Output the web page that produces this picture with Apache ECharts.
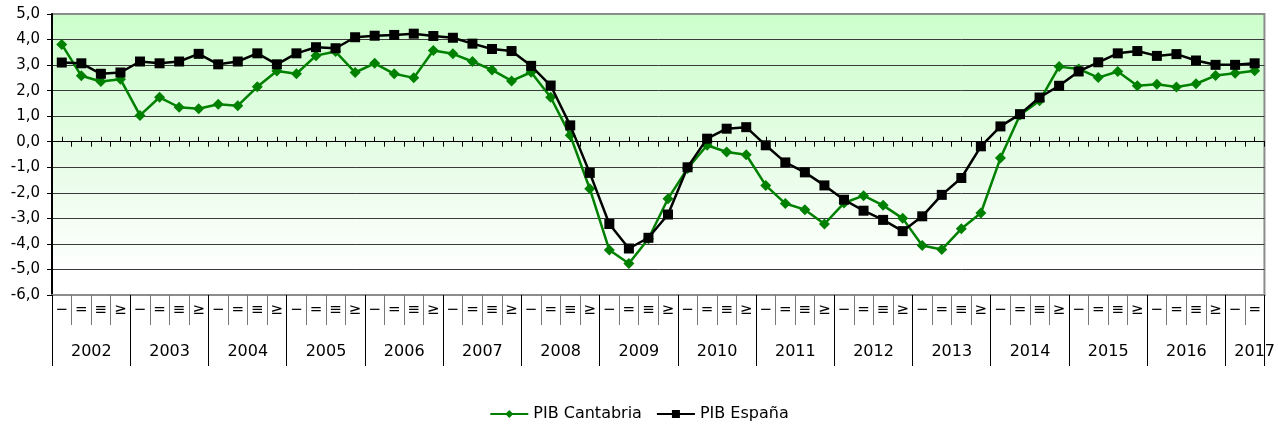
<!DOCTYPE html>
<html>
<head>
<meta charset="utf-8">
<script src="https://cdn.jsdelivr.net/npm/echarts@6/dist/echarts.min.js"></script>
<style>
  html, body { margin: 0; padding: 0; background: #fff; }
  .EC { width: 1278px; height: 428px; }
</style>
</head>
<body>
<div class="EC"></div>
<script>
    // trimestres (el original muestra los números romanos con fuente de símbolos)
    const quarterMarks = ['−', '=', '≡', '≥']
    const years = ['2002', '2003', '2004', '2005', '2006', '2007', '2008', '2009',
        '2010', '2011', '2012', '2013', '2014', '2015', '2016', '2017']
    const seriesNames = ['PIB Cantabria', 'PIB España']

    const pibCantabria = [3.81, 2.58, 2.36, 2.45, 1.03, 1.74, 1.35, 1.29, 1.47, 1.41, 2.15, 2.77,
        2.66, 3.37, 3.53, 2.71, 3.07, 2.66, 2.50, 3.57, 3.44, 3.14, 2.81, 2.38, 2.72, 1.74,
        0.25, -1.84, -4.24, -4.77, -3.80, -2.23, -1.05, -0.14, -0.40, -0.51, -1.71, -2.42,
        -2.66, -3.22, -2.40, -2.11, -2.49, -3.00, -4.06, -4.22, -3.41, -2.79, -0.64, 1.05,
        1.60, 2.94, 2.85, 2.51, 2.75, 2.19, 2.25, 2.14, 2.27, 2.59, 2.68, 2.78]
    const pibEspana = [3.10, 3.07, 2.66, 2.71, 3.14, 3.07, 3.14, 3.44, 3.03, 3.14, 3.46, 3.03,
        3.46, 3.70, 3.66, 4.09, 4.15, 4.18, 4.23, 4.14, 4.07, 3.84, 3.63, 3.55, 2.97, 2.20,
        0.64, -1.22, -3.22, -4.18, -3.76, -2.85, -1.00, 0.12, 0.51, 0.57, -0.14, -0.81,
        -1.20, -1.71, -2.27, -2.70, -3.06, -3.50, -2.92, -2.08, -1.42, -0.18, 0.60, 1.08,
        1.73, 2.19, 2.75, 3.11, 3.46, 3.55, 3.36, 3.43, 3.18, 3.01, 3.01, 3.07]

    // categorias: un elemento por trimestre
    const quarters = []
    const quarterYear = []
    for (let i = 0; i < pibEspana.length; i++) {
        quarters.push(quarterMarks[i % 4])
        quarterYear.push(years[Math.floor(i / 4)])
    }
    const lastIdx = quarters.length - 1

    const FONT = 'DejaVu Sans'

    window.onload = () => {
        let EC = echarts.init(document.querySelector('.EC'))

        // eje x auxiliar sobre el cero (solo marcas)
        let zeroAxis = (inside, align, yIdx) => ({
            type: 'category',
            data: quarters,
            position: 'bottom',
            gridIndex: 0,
            axisLine: { show: true, onZero: true, onZeroAxisIndex: yIdx, lineStyle: { color: '#000', width: 1 } },
            axisTick: { show: true, inside: inside, alignWithLabel: align, interval: 0, length: 5, lineStyle: { color: '#000' } },
            axisLabel: { show: false },
            splitLine: { show: false }
        })

        let option = {
            backgroundColor: '#fff',
            animation: false,
            textStyle: { fontFamily: FONT },
            grid: {
                left: 52,
                right: 11,
                top: 14,
                bottom: 133,
                show: true,
                borderColor: '#8c8c8c',
                borderWidth: 2,
                backgroundColor: new echarts.graphic.LinearGradient(0, 0, 0, 1, [
                    { offset: 0, color: '#ccffcc' },
                    { offset: 0.5, color: '#e6fce6' },
                    { offset: 0.92, color: '#ffffff' },
                    { offset: 1, color: '#ffffff' }
                ])
            },
            legend: {
                data: seriesNames,
                left: 'center',
                top: 401,
                itemWidth: 38,
                itemHeight: 10,
                itemGap: 14,
                textStyle: { fontFamily: FONT, fontSize: 16, color: '#000' }
            },
            xAxis: [
                {   // trimestres
                    type: 'category',
                    data: quarters,
                    position: 'bottom',
                    boundaryGap: true,
                    axisLine: { onZero: false, lineStyle: { color: '#8c8c8c', width: 2 } },
                    axisTick: { show: true, interval: 0, length: 30, lineStyle: { color: '#777' } },
                    axisLabel: { interval: 0, margin: 8, color: '#000', fontFamily: FONT, fontSize: 15 },
                    splitLine: { show: false }
                },
                {   // años
                    type: 'category',
                    data: quarterYear,
                    position: 'bottom',
                    boundaryGap: true,
                    axisLine: { show: false, onZero: false },
                    axisTick: {
                        show: true,
                        interval: (idx) => idx % 4 === 0,
                        length: 71,
                        lineStyle: { color: '#000' }
                    },
                    axisLabel: {
                        interval: (idx) => (idx % 4 === 1 && idx < lastIdx - 1) || idx === lastIdx,
                        margin: 49,
                        color: '#000',
                        fontFamily: FONT,
                        fontSize: 16,
                        formatter: (v, idx) => idx === lastIdx ? v : '{y|' + v + '}',
                        rich: { y: { padding: [0, 0, 0, 20], fontFamily: FONT, fontSize: 16, color: '#000' } }
                    },
                    splitLine: { show: false }
                },
                zeroAxis(false, false, 0),
                zeroAxis(true, true, 1)
            ],
            yAxis: [
                {
                    type: 'value',
                    min: -6,
                    max: 5,
                    interval: 1,
                    position: 'left',
                    axisLine: { show: true, lineStyle: { color: '#000', width: 2 } },
                    axisTick: { show: true, length: 5, lineStyle: { color: '#000' } },
                    axisLabel: {
                        margin: 12,
                        color: '#000',
                        fontFamily: FONT,
                        fontSize: 15,
                        formatter: (v) => v.toFixed(1).replace('.', ',')
                    },
                    splitLine: { show: true, showMinLine: false, showMaxLine: false, lineStyle: { color: '#3a3a3a', width: 1 } }
                },
                {
                    type: 'value',
                    min: -6,
                    max: 5,
                    interval: 1,
                    position: 'left',
                    show: false
                }
            ],
            series: [
                {
                    name: seriesNames[0],
                    type: 'line',
                    data: pibCantabria,
                    symbol: 'diamond',
                    symbolSize: 11,
                    color: '#008000',
                    lineStyle: { width: 2.5, color: '#008000' },
                    itemStyle: { color: '#008000' },
                    z: 3
                },
                {
                    name: seriesNames[1],
                    type: 'line',
                    data: pibEspana,
                    symbol: 'rect',
                    symbolSize: 10,
                    color: '#000',
                    lineStyle: { width: 2.5, color: '#000' },
                    itemStyle: { color: '#000' },
                    z: 4
                }
            ]
        }

        EC.setOption(option)
    }
</script>
</body>
</html>
